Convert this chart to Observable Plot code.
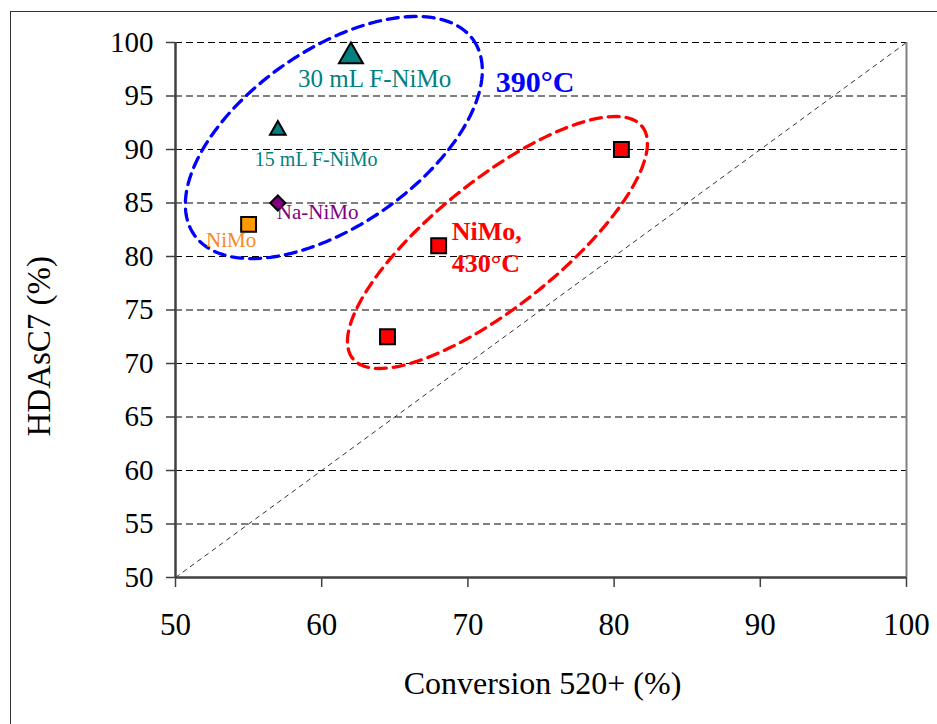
<!DOCTYPE html>
<html>
<head>
<meta charset="utf-8">
<script src="https://cdn.jsdelivr.net/npm/d3@7"></script>
<script src="https://cdn.jsdelivr.net/npm/@observablehq/plot@0.6"></script>
<style>
  html, body { margin: 0; padding: 0; background: #fff; }
  #wrap { position: relative; width: 937px; height: 724px; overflow: hidden; }
  #frame { position: absolute; left: 10px; top: 11px; width: 940px; height: 730px;
           border-left: 1.5px solid #333; border-top: 1.5px solid #333; pointer-events: none; }
  svg { display: block; }
</style>
</head>
<body>
<div id="wrap"><div id="frame"></div></div>
<script>
// ---- data ----
const catalysts390 = ["30 mL F-NiMo", "15 mL F-NiMo", "Na-NiMo", "NiMo"];
const conversion390 = [62, 57, 57, 55];
const hdas390 = [99, 92, 85, 83];

const conversion430 = [64.5, 68, 80.5];
const hdas430 = [72.5, 81, 90];

const xDomain = [50, 100];
const yDomain = [50, 100];
const xTicks = [50, 60, 70, 80, 90, 100];
const yTicks = [50, 55, 60, 65, 70, 75, 80, 85, 90, 95, 100];

const xTitle = "Conversion 520+ (%)";
const yTitle = "HDAsC7 (%)";

// group annotations (temperature groups)
const groupNames = ["390°C", "NiMo,\n430°C"];
const groupLabelX = [71.9, 68.9];
const groupLabelY = [96.5, 81];
// ellipse outlines: centre and two semi-axis vectors, in data units
const ellipseCx = [60.83, 72.02];
const ellipseCy = [91.12, 81.31];
const ellipseAx = [[9.56, 9.08], [9.90, 10.84]];
const ellipseBx = [[3.43, -6.75], [2.69, -4.60]];

// ---- styling (kept apart from the data) ----
const font = "'Liberation Serif', 'Times New Roman', Times, serif";
const pointStyle = {
  "30 mL F-NiMo": {symbol: "triangle", r: 8.9, fill: "#008080", text: "#008080", fs: 25, dx: -53, dy: 26},
  "15 mL F-NiMo": {symbol: "triangle", r: 5.8, fill: "#008080", text: "#008080", fs: 20, dx: -23, dy: 31},
  "Na-NiMo":      {symbol: "diamond2", r: 6.8, fill: "#800080", text: "#800080", fs: 21, dx: -1, dy: 9},
  "NiMo":         {symbol: "square",   r: 8.4, fill: "#FF9900", text: "#F7891F", fs: 21, dx: -42.5, dy: 16}
};
const groupColors = ["#0000FF", "#FF0000"];
const groupFont = [30, 26];

// ---- tables built from the arrays ----
const rows390 = catalysts390.map((c, i) => ({catalyst: c, x: conversion390[i], y: hdas390[i]}));
const rows430 = conversion430.map((x, i) => ({x, y: hdas430[i]}));
const groups = groupNames.map((name, i) => ({name, x: groupLabelX[i], y: groupLabelY[i], i}));
const ellipsePts = [];
groupNames.forEach((name, g) => {
  const n = 160;
  for (let k = 0; k < n; k++) {
    const t = (2 * Math.PI * k) / n;
    ellipsePts.push({
      g,
      x: ellipseCx[g] + ellipseAx[g][0] * Math.cos(t) + ellipseBx[g][0] * Math.sin(t),
      y: ellipseCy[g] + ellipseAx[g][1] * Math.cos(t) + ellipseBx[g][1] * Math.sin(t)
    });
  }
});

const marks = [
  Plot.gridY(yTicks, {stroke: "#000", strokeOpacity: 1, strokeWidth: 1, strokeDasharray: "7,4"}),
  Plot.link([0], {x1: () => xDomain[0], y1: () => yDomain[0], x2: () => xDomain[1], y2: () => yDomain[1],
    stroke: "#000", strokeWidth: 0.8, strokeDasharray: "5,4"}),
  Plot.ruleX([xDomain[1]], {stroke: "#808080", strokeWidth: 2}),
  Plot.axisX({ticks: xTicks, tickSize: 10, tickPadding: 25, fontSize: 31, stroke: "#404040",
    strokeWidth: 1.5, label: null, fill: "#000"}),
  Plot.axisY({ticks: yTicks, tickSize: 9, tickPadding: 13, fontSize: 29, stroke: "#404040",
    strokeWidth: 1.5, label: null, fill: "#000"}),
  Plot.ruleX([xDomain[0]], {stroke: "#404040", strokeWidth: 2.5}),
  Plot.ruleY([yDomain[0]], {stroke: "#404040", strokeWidth: 2.5}),
  ...groupNames.map((name, g) => Plot.line(ellipsePts.filter(p => p.g === g), {
    x: "x", y: "y", stroke: groupColors[g], strokeWidth: 3.3, strokeDasharray: "11,7", curve: "linear-closed"
  })),
  Plot.dot(rows430, {x: "x", y: "y", symbol: "square", r: 8.4, fill: "#FF0000", stroke: "#000", strokeWidth: 2}),
  ...rows390.map(d => {
    const s = pointStyle[d.catalyst];
    return Plot.dot([d], {x: "x", y: "y", symbol: s.symbol, r: s.r, fill: s.fill, stroke: "#000", strokeWidth: 2,
      dy: s.symbol === "triangle" ? s.r * 0.35 : 0});
  }),
  ...rows390.map(d => {
    const s = pointStyle[d.catalyst];
    return Plot.text([d], {x: "x", y: "y", text: "catalyst", fill: s.text, fontSize: s.fs,
      textAnchor: "start", dx: s.dx, dy: s.dy});
  }),
  ...groups.map(d => Plot.text([d], {x: "x", y: "y", text: "name", fill: groupColors[d.i],
    fontSize: groupFont[d.i], fontWeight: "bold", textAnchor: "start", lineHeight: 1.23})),
  Plot.text([xTitle], {text: d => d, frameAnchor: "bottom", dx: 1.5, dy: 116, fontSize: 32, fill: "#000"}),
  Plot.text([yTitle], {text: d => d, frameAnchor: "left", dx: -136, dy: 126.5, rotate: -90, fontSize: 33, fill: "#000"})
];

const chart = Plot.plot({
  width: 937,
  height: 724,
  marginLeft: 175,
  marginRight: 31,
  marginTop: 42,
  marginBottom: 147,
  x: {domain: xDomain, axis: null},
  y: {domain: yDomain, axis: null},
  style: {fontFamily: font, background: "transparent", color: "#000", overflow: "visible"},
  marks
});
document.getElementById("wrap").prepend(chart);
</script>
</body>
</html>
